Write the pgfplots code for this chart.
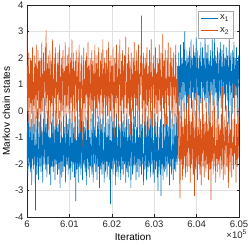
\documentclass[border=0pt]{standalone}
\usepackage{fontspec}
\setmainfont{Liberation Sans}
\usepackage{pgfplots}
\pgfplotsset{compat=1.18}
\usepackage{pgfplotstable}
\definecolor{mblue}{rgb}{0,0.447,0.741}
\definecolor{morange}{rgb}{0.85,0.325,0.098}
\definecolor{axgray}{rgb}{0.15,0.15,0.15}
\definecolor{gridgray}{rgb}{0.88,0.88,0.88}

% states of the two chains, one row every 10 iterations from 600000 to 605000
\pgfplotstableread{
y1 y2
-1.9 2.9
-0.4 0.0
-2.5 1.7
-1.2 -0.4
-0.1 2.2
-2.1 0.5
-1.6 1.4
-0.6 -0.7
-2.3 2.0
-1.4 0.3
-0.3 1.9
-2.8 -0.1
-1.1 1.5
-1.8 2.4
0.0 -0.5
-2.2 1.1
-1.5 0.2
-0.5 2.1
-2.0 1.3
-1.3 -0.8
-3.75 1.8
-0.2 0.6
-1.7 2.5
-2.4 -0.3
-1.0 1.6
0.1 0.4
-1.9 2.3
-2.6 1.2
-1.2 -0.6
-0.4 1.9
-2.1 0.1
-1.5 2.0
-0.1 1.0
-2.3 -0.9
-1.8 1.7
-0.6 2.6
-1.4 0.0
-2.7 1.4
-1.1 0.5
-0.3 2.2
-2.0 -0.4
-1.6 1.5
0.5 1.1
-1.3 2.4
-2.2 0.2
-0.5 3.05
-1.7 1.3
-2.5 -0.1
0.0 1.8
-1.2 0.6
-2.0 2.1
-1.5 -0.7
-0.2 1.6
-2.4 0.4
-1.9 2.3
-1.0 1.0
-2.8 -0.5
-1.3 1.9
-0.4 0.3
-2.1 1.4
-1.6 2.7
-0.1 -0.2
-2.3 1.2
-1.8 -1.0
-0.6 2.0
-1.4 0.5
-2.6 1.6
-1.1 2.4
0.1 0.1
-2.0 1.1
-1.7 -0.6
-0.3 1.8
-2.4 0.6
-1.3 2.2
-0.5 1.4
-2.2 -0.3
-1.5 1.7
0.0 2.5
-2.9 0.3
-1.2 1.3
-1.9 -0.8
-0.4 2.0
-2.5 1.0
-1.0 0.0
-1.6 1.9
-2.3 2.3
-0.2 0.4
-1.4 -0.5
-2.1 1.5
-0.6 0.6
-1.8 2.6
-2.7 1.2
-1.1 -0.9
-0.1 1.7
-2.0 0.2
-1.5 2.1
-0.5 1.1
-2.4 -0.1
-1.3 1.8
-0.3 2.4
-2.2 0.5
-1.7 -0.7
-1.0 1.4
-2.6 2.0
0.0 0.3
-1.9 1.2
-1.2 2.7
-2.3 -0.4
-0.4 1.6
-1.6 0.6
-2.0 2.2
-0.6 0.1
-2.5 1.5
-1.4 -1.1
-0.2 1.9
-3.4 1.0
-1.1 2.3
-1.8 0.0
-2.2 1.3
-0.3 -0.6
-1.5 2.0
-2.7 0.4
-1.0 1.7
-0.1 2.5
-2.1 -0.2
-1.7 1.1
-0.5 -0.8
-2.4 1.8
-1.3 0.5
0.1 2.1
-1.9 1.4
-2.6 0.1
-1.2 -1.35
-0.4 1.6
-2.0 2.4
-1.5 0.3
-0.6 1.2
-2.3 -0.5
-1.6 1.9
-0.2 0.6
-2.8 2.2
-1.1 1.5
-1.8 -0.1
0.0 1.0
-2.2 2.6
-1.4 -0.7
-0.5 1.7
-2.5 0.2
-1.0 1.3
-1.7 2.0
-2.1 0.5
-0.3 -0.4
-1.3 1.6
-2.4 2.3
-1.9 0.0
-0.1 1.1
-2.7 1.9
-1.2 -1.0
-0.6 1.4
-2.0 0.4
-1.5 2.5
0.1 1.0
-2.3 -0.6
-1.7 1.8
-1.0 0.1
-2.6 2.1
-0.4 1.2
-1.4 -0.3
-2.1 1.7
-0.2 2.4
-1.8 0.3
-2.9 1.3
-1.1 -0.8
-0.3 1.9
-2.2 0.6
-1.6 2.2
-0.5 1.5
-2.4 -0.1
-1.3 1.1
0.0 2.7
-2.0 -0.5
-1.5 1.6
-2.7 0.5
-0.6 2.0
-1.2 1.3
-2.3 -0.9
-0.1 1.8
-1.9 0.2
-1.0 2.3
-2.5 1.0
-1.7 -0.2
-0.3 1.5
-2.1 2.6
-1.4 0.4
-0.5 -0.7
-2.6 1.9
-1.1 1.2
-3.5 0.0
-0.2 2.1
-1.8 1.4
-2.2 -0.4
-1.3 1.7
-0.4 0.6
-2.4 2.4
-1.6 0.1
0.1 1.1
-2.0 -1.0
-1.5 2.0
-0.6 1.5
-2.8 0.3
-1.2 1.8
-0.1 2.5
-2.3 -0.3
-1.7 1.3
-1.0 0.5
-2.5 2.2
-0.3 -0.6
-1.4 1.6
-2.1 1.0
-0.5 2.7
-1.9 0.2
-2.6 1.4
-1.1 -0.8
0.0 1.9
-2.2 0.4
-1.6 2.3
-0.4 1.2
-2.4 -0.1
-1.3 1.7
-0.2 -0.5
-2.0 2.1
-1.8 0.6
-0.6 1.5
-2.7 2.8
-1.2 0.1
-0.1 1.1
-2.3 -0.7
-1.5 1.8
-1.0 0.3
-2.5 2.4
-0.3 1.3
-1.7 -0.2
-2.1 1.9
-0.5 1.0
-1.4 -0.9
-2.9 1.6
-1.1 2.2
0.1 0.4
-1.9 1.4
-2.4 0.0
-1.3 2.0
-0.4 -0.4
-2.2 1.2
-1.6 2.6
-0.2 0.5
-2.0 1.5
-1.2 -0.6
-2.6 1.9
-0.6 0.2
-1.5 2.3
-2.3 1.1
0.0 -0.1
-1.8 1.7
-1.0 2.5
-2.5 0.3
-1.4 -0.8
-0.3 1.4
-2.1 0.6
-1.7 2.1
-0.5 1.3
-2.4 3.6
-1.1 0.1
-0.1 1.8
-2.0 -0.5
-1.6 1.0
-2.8 2.2
-1.3 0.4
-0.4 1.6
-2.2 -1.0
-1.5 2.0
0.1 1.2
-1.9 0.0
-2.6 1.9
-1.0 2.4
-0.2 0.2
-2.3 1.4
-1.7 -0.7
-0.6 1.7
-2.1 0.5
-1.4 2.3
-0.3 1.1
-2.5 -0.3
-1.2 1.5
0.0 2.7
-2.0 0.3
-1.8 1.3
-0.5 -0.6
-2.4 1.8
-1.1 1.0
-1.6 2.1
-2.7 0.1
-0.1 1.6
-1.3 -0.9
-2.2 2.4
-0.4 0.6
-1.9 1.4
-1.0 -0.1
-2.5 2.0
-0.2 1.2
-3.0 -0.4
-1.5 1.8
-2.1 0.4
-0.6 2.5
-1.7 1.1
-2.4 0.0
-0.3 1.6
-3.2 2.2
-1.2 -0.8
0.0 1.3
-2.0 0.5
-1.4 2.9
-2.6 1.0
-0.5 0.1
-1.8 1.9
-2.3 -0.6
-1.1 1.5
-0.1 2.3
-2.2 0.3
-1.6 1.2
-0.4 -0.5
-2.5 2.0
-1.3 0.6
-0.2 1.7
-2.0 2.6
-1.7 0.2
-0.6 1.3
-2.8 -0.9
-1.0 1.8
0.0 1.1
-2.1 2.4
-1.5 -0.1
-2.4 1.4
-0.3 2.0
-1.2 0.4
-1.9 -0.6
-2.6 1.6
-0.5 2.2
-1.4 0.6
-2.2 1.3
-0.1 -0.2
-1.7 1.9
-2.3 2.5
-1.0 0.3
-0.2 1.2
-2.0 -0.7
-1.6 1.7
-0.6 1.0
1.3 -0.4
2.2 -1.8
0.2 0.0
1.7 -2.4
0.7 -3.3
2.5 -1.1
-0.3 -0.2
1.5 -2.0
2.0 0.5
0.4 -1.5
1.8 -2.6
1.1 -0.6
2.6 -1.3
0.0 -2.2
1.4 0.3
3.0 -1.7
0.6 -0.3
1.9 -2.5
1.2 -1.0
-0.5 0.1
2.3 -1.9
1.0 -2.3
0.3 -0.5
2.1 -1.4
1.6 0.6
-0.1 -2.1
2.4 -1.2
1.3 -0.1
0.5 -2.7
1.8 -1.6
2.7 -0.4
0.1 -2.0
1.5 -0.7
2.0 0.4
0.7 -1.8
1.2 -2.4
2.5 -0.2
-0.2 -1.3
1.7 -3.2
2.2 -1.1
0.4 0.0
1.4 -2.2
2.8 -1.5
1.0 0.7
0.2 -1.7
1.9 -2.6
2.3 -0.6
0.6 -1.2
1.6 -2.0
-0.4 0.2
2.1 -1.9
1.3 -2.4
0.3 -0.3
2.6 -1.4
1.1 -2.8
1.7 -0.7
0.0 -1.6
2.4 0.5
1.5 -2.1
0.7 -1.0
2.0 -0.1
1.2 -2.5
0.4 -1.3
2.95 -0.4
1.4 -1.8
0.1 -2.3
1.8 0.3
2.2 -1.2
0.5 -2.0
1.6 -0.5
2.5 -1.5
1.0 -2.6
-0.5 -0.2
1.9 -1.7
1.3 -2.2
0.3 0.8
2.3 -1.1
1.1 -3.35
1.7 -0.6
0.6 -1.9
2.7 -1.4
1.5 0.0
-0.1 -2.4
2.0 -1.0
1.2 -1.6
2.8 0.4
0.4 -2.1
1.4 -1.3
2.1 -2.7
0.7 -0.3
1.8 -1.8
0.2 -1.1
2.4 -2.3
1.6 0.6
-0.3 -1.5
1.0 -2.0
2.2 -0.5
1.3 -1.4
0.5 -2.5
2.6 -0.7
1.5 -1.7
0.1 -0.1
1.9 -2.2
2.3 -1.2
1.1 0.9
0.3 -1.9
1.7 -2.6
2.5 -1.0
0.6 -0.2
1.4 -1.6
2.0 -2.4
0.0 -0.6
1.6 -1.3
2.4 0.2
1.2 -2.1
0.4 -1.5
2.1 -0.4
1.0 -2.0
-0.5 -2.9
1.8 -1.1
2.7 0.0
1.3 -1.8
0.2 -2.3
1.9 -0.7
2.2 -1.4
0.7 0.5
1.5 -2.5
-0.1 -1.2
2.3 -1.7
1.7 -0.3
0.5 -2.2
2.6 -1.0
1.1 -1.6
0.1 1.0
2.0 -2.0
1.4 -1.3
0.6 -2.7
2.4 -0.5
1.6 -1.5
-0.2 -2.1
1.9 -0.2
1.2 -1.8
2.1 -1.1
-0.2 0.1
}\chaindata

\begin{document}
\begin{tikzpicture}
\begin{axis}[
  name=ax,
  width=212pt, height=212pt, scale only axis,
  xmin=6, xmax=6.05, ymin=-4, ymax=4,
  xtick={6,6.01,6.02,6.03,6.04,6.05},
  xticklabels={6,6.01,6.02,6.03,6.04,6.05},
  ytick={-4,-3,-2,-1,0,1,2,3,4},
  yticklabels={-4,-3,-2,-1,0,1,2,3,4},
  tick align=inside,
  major tick length=2.5pt,
  tick style={axgray, line width=0.4pt},
  axis line style={axgray, line width=0.5pt},
  grid=major,
  major grid style={gridgray, line width=0.4pt},
  ticklabel style={font=\fontsize{9.5}{11}\selectfont, text=axgray},
  xlabel={Iteration},
  ylabel={Markov chain states},
  label style={font=\fontsize{10.5}{12}\selectfont, text=axgray},
  every axis x label/.style={at={(axis description cs:0.5,-0.094)}, anchor=center},
  every axis y label/.style={at={(axis description cs:-0.098,0.5)}, rotate=90, anchor=center},
  legend style={at={(axis description cs:0.972,0.972)}, anchor=north east,
    draw=gray!70, fill=white, font=\fontsize{9.5}{11}\selectfont, text=axgray,
    inner sep=1.8pt, row sep=2pt},
  legend cell align=left,
  legend image code/.code={\draw[#1, line width=1.1pt] (0pt,0pt) -- (17pt,0pt);},
]
\addplot[color=mblue, draw=mblue, line width=0.6pt] table[x expr={6+0.0001*\coordindex}, y=y1] {\chaindata};
\addlegendentry{x\textsubscript{1}}
\addplot[color=morange, draw=morange, line width=0.6pt] table[x expr={6+0.0001*\coordindex}, y=y2] {\chaindata};
\addlegendentry{x\textsubscript{2}}
\end{axis}
\node[anchor=north east, inner sep=0pt, font=\fontsize{9.5}{11}\selectfont, text=axgray]
  at ([xshift=8pt,yshift=-13pt]ax.south east) {×10\textsuperscript{5}};
\pgfresetboundingbox
\path ([shift={(-27pt,-29pt)}]ax.south west) rectangle ([shift={(10pt,5pt)}]ax.north east);
\end{tikzpicture}
\end{document}
